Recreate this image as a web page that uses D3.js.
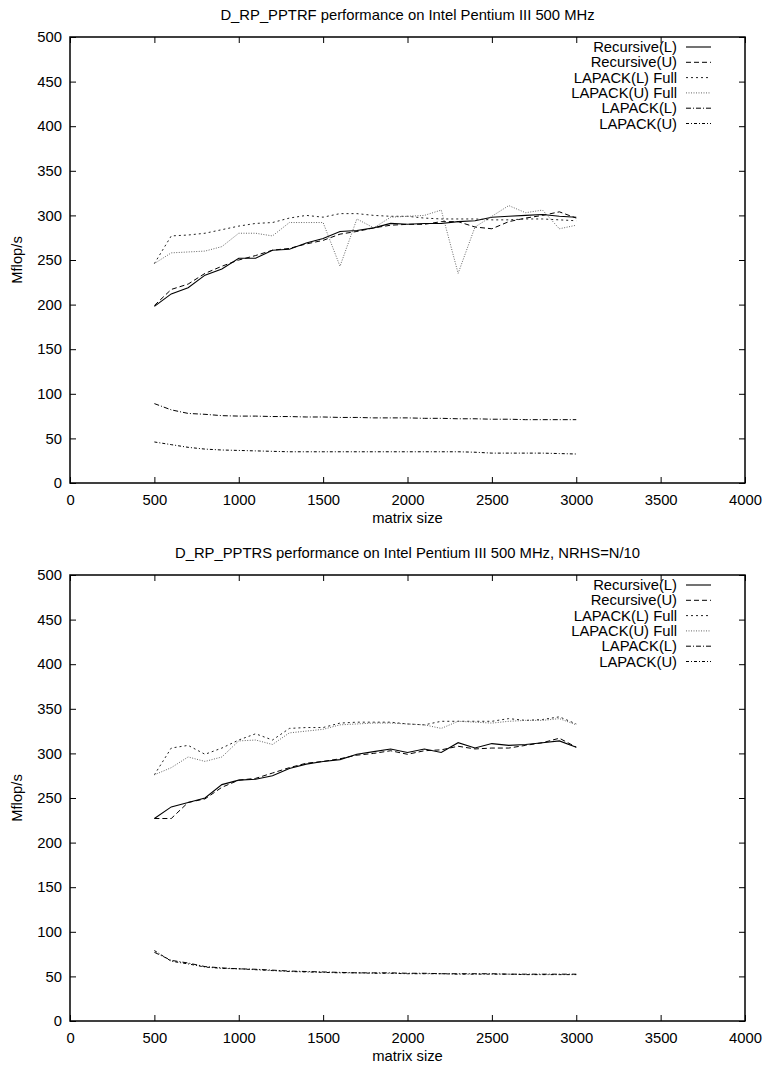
<!DOCTYPE html>
<html>
<head>
<meta charset="utf-8">
<script src="https://cdn.jsdelivr.net/npm/d3@7"></script>
<style>
  html, body { margin: 0; padding: 0; background: #fff; }
  svg { display: block; }
  text { font-family: "Liberation Sans", Arial, sans-serif; fill: #000; }
</style>
</head>
<body>
<svg id="chart" width="765" height="1072"></svg>
<script>
// ---------- data ----------
const sizes = [500,600,700,800,900,1000,1100,1200,1300,1400,1500,1600,1700,1800,1900,2000,2100,2200,2300,2400,2500,2600,2700,2800,2900,3000];

const xTicks = [0,500,1000,1500,2000,2500,3000,3500,4000];
const yTicks = [0,50,100,150,200,250,300,350,400,450,500];

const seriesNames = ["Recursive(L)","Recursive(U)","LAPACK(L) Full","LAPACK(U) Full","LAPACK(L)","LAPACK(U)"];

// Top panel: D_RP_PPTRF
const pptrfRecL  = [198,212,219,233,240,252,252,261,262,269,274,282,283,286,291,290,291,291,293,294,298,299,300,301,299,298];
const pptrfRecU  = [199,217,223,235,243,250,255,261,263,268,272,279,282,286,289,290,290,293,293,287,285,293,297,300,304,297];
const pptrfLapLF = [246,277,278,280,284,288,291,292,297,300,298,302,302,300,299,299,297,296,296,296,295,295,296,296,295,294];
const pptrfLapUF = [246,258,259,260,265,280,280,277,292,292,292,243,296,286,298,299,300,306,235,287,299,311,303,306,285,289];
const pptrfLapL  = [89,82,78,77,75.5,75,75,74.5,74.5,74,74,73.5,73.5,73,73,73,72.5,72.5,72,72,71.5,71.5,71,71,71,71];
const pptrfLapU  = [46,43,40,38,37,36.5,36,35.5,35,35,35,35,35,35,35,35,35,35,35,34.5,33.5,33.5,33.5,33.5,33,32.5];

// Bottom panel: D_RP_PPTRS
const pptrsRecL  = [227,240,245,250,265,270,271,275,283,288,291,293,299,302,305,301,305,301,312,306,311,309,310,312,314,307];
const pptrsRecU  = [227,227,245,249,262,270,272,278,284,289,291,294,298,300,303,299,303,304,308,305,306,306,309,312,317,307];
const pptrsLapLF = [276,306,309,299,306,315,322,315,328,329,329,334,335,335,335,333,332,336,336,336,336,339,337,338,341,333];
const pptrsLapUF = [276,284,296,291,296,314,315,310,323,325,327,332,333,334,334,333,332,328,336,335,334,336,337,337,339,332];
const pptrsLapL  = [77,68,65,61,59.5,58.5,58,57,56,55.5,55,54.5,54,54,54,53.5,53.5,53,53,53,53,52.5,52.5,52.5,52.5,52.5];
const pptrsLapU  = [79,67,64,60.5,59,58.5,57.5,56.5,55.5,55,54.5,54,54,53.5,53.5,53,53,53,52.5,52.5,52.5,52.5,52,52,52,52];

const titles = [
  "D_RP_PPTRF performance on Intel Pentium III 500 MHz",
  "D_RP_PPTRS performance on Intel Pentium III 500 MHz, NRHS=N/10"
];

// ---------- styles ----------
const FONT = "14.8px";
const styles = [
  { dash: null,        color: "#000", width: 1.1 },
  { dash: "5,3",       color: "#000", width: 1 },
  { dash: "2,3",       color: "#222", width: 1 },
  { dash: "1,1.5",     color: "#666", width: 1 },
  { dash: "5,2,1,2",   color: "#000", width: 1 },
  { dash: "3,2,1,2",   color: "#000", width: 1 }
];

const svg = d3.select("#chart");

function drawPanel(offsetY, title, seriesList) {
  const left = 70, right = 745, top = 37 + offsetY, bottom = 483 + offsetY;
  const x = d3.scaleLinear().domain([0, 4000]).range([left, right]);
  const y = d3.scaleLinear().domain([0, 500]).range([bottom, top]);
  const g = svg.append("g");

  // title
  g.append("text")
    .attr("x", (left + right) / 2).attr("y", offsetY + 20)
    .attr("text-anchor", "middle").style("font-size", FONT)
    .text(title);

  // axes (ticks inward, mirrored)
  const xb = d3.axisBottom(x).tickValues(xTicks).tickSize(-6).tickPadding(11).tickFormat(d3.format("d"));
  const xt = d3.axisTop(x).tickValues(xTicks).tickSize(-6).tickFormat("");
  const yl = d3.axisLeft(y).tickValues(yTicks).tickSize(-6).tickPadding(8).tickFormat(d3.format("d"));
  const yr = d3.axisRight(y).tickValues(yTicks).tickSize(-6).tickFormat("");

  function styleAxis(sel) {
    sel.select(".domain").remove();
    sel.selectAll(".tick line").attr("stroke", "#000").attr("stroke-width", 1);
    sel.selectAll(".tick text").style("font-size", FONT).style("font-family", "Liberation Sans, Arial, sans-serif");
  }
  g.append("g").attr("transform", `translate(0,${bottom})`).call(xb).call(styleAxis);
  g.append("g").attr("transform", `translate(0,${top})`).call(xt).call(styleAxis);
  g.append("g").attr("transform", `translate(${left},0)`).call(yl).call(styleAxis);
  g.append("g").attr("transform", `translate(${right},0)`).call(yr).call(styleAxis);

  // frame
  g.append("rect")
    .attr("x", left).attr("y", top).attr("width", right - left).attr("height", bottom - top)
    .attr("fill", "none").attr("stroke", "#000").attr("stroke-width", 1.5);

  // axis titles
  g.append("text")
    .attr("x", (left + right) / 2).attr("y", bottom + 40)
    .attr("text-anchor", "middle").style("font-size", FONT)
    .text("matrix size");
  g.append("text")
    .attr("transform", `translate(22,${(top + bottom) / 2}) rotate(-90)`)
    .attr("text-anchor", "middle").style("font-size", FONT)
    .text("Mflop/s");

  // lines
  const line = d3.line().x((d, i) => x(sizes[i])).y(d => y(d));
  seriesList.forEach((vals, k) => {
    const s = styles[k];
    g.append("path")
      .datum(vals)
      .attr("d", line)
      .attr("fill", "none")
      .attr("stroke", s.color)
      .attr("stroke-width", s.width)
      .attr("stroke-dasharray", s.dash);
  });

  // legend
  const legTextX = 677, legX1 = 686, legX2 = 711;
  seriesNames.forEach((name, k) => {
    const ly = offsetY + 47 + k * 15.3;
    const s = styles[k];
    g.append("text")
      .attr("x", legTextX).attr("y", ly + 5)
      .attr("text-anchor", "end").style("font-size", FONT)
      .text(name);
    g.append("line")
      .attr("x1", legX1).attr("x2", legX2).attr("y1", ly).attr("y2", ly)
      .attr("stroke", s.color).attr("stroke-width", s.width)
      .attr("stroke-dasharray", s.dash);
  });
}

drawPanel(0, titles[0], [pptrfRecL, pptrfRecU, pptrfLapLF, pptrfLapUF, pptrfLapL, pptrfLapU]);
drawPanel(538, titles[1], [pptrsRecL, pptrsRecU, pptrsLapLF, pptrsLapUF, pptrsLapL, pptrsLapU]);
</script>
</body>
</html>
